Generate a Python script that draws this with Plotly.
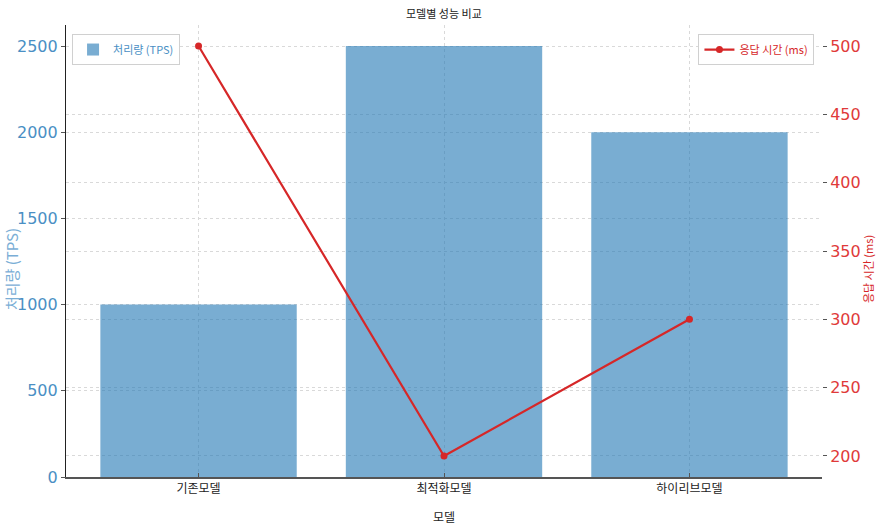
import plotly.graph_objects as go

models = ["기존모델", "최적화모델", "하이리브모델"]
throughput = [1000, 2500, 2000]
latency = [500, 200, 300]

KR = "Noto Sans CJK KR, DejaVu Sans, sans-serif"
NUM = "DejaVu Sans, sans-serif"

fig = go.Figure()
fig.add_trace(go.Bar(
    x=models, y=throughput, name="처리량 (TPS)",
    marker=dict(color="rgba(31,119,180,0.6)", line=dict(width=0)),
    width=0.8, yaxis="y", legend="legend", showlegend=True,
))
fig.add_trace(go.Scatter(
    x=models, y=latency, name="응답 시간 (ms)", mode="lines+markers",
    line=dict(color="#d62728", width=2.2), marker=dict(color="#d62728", size=7),
    yaxis="y2", legend="legend2", showlegend=True,
))

grid = dict(showgrid=True, gridcolor="#d9d9d9", griddash="dot", gridwidth=1)

fig.update_layout(
    width=882, height=525,
    margin=dict(l=66, r=60, t=25, b=48),
    plot_bgcolor="white", paper_bgcolor="white",
    showlegend=True,
    xaxis=dict(
        type="category", range=[-0.54, 2.54], **grid, automargin=False,
        showline=True, linecolor="#555", linewidth=1.5,
        ticks="inside", ticklen=4, tickcolor="#555",
        tickfont=dict(family=KR, size=12, color="#222"),
    ),
    yaxis=dict(
        range=[0, 2622], tickvals=[0, 500, 1000, 1500, 2000, 2500], **grid, automargin=False,
        showline=True, linecolor="#222", linewidth=1.2,
        ticks="outside", ticklen=4, tickcolor="#555",
        tickfont=dict(family=NUM, size=16, color="#4a8fc4"),
        zeroline=False,
    ),
    yaxis2=dict(
        overlaying="y", side="right", range=[184.6, 515.4], automargin=False,
        tickvals=[200, 250, 300, 350, 400, 450, 500], **grid,
        showline=False, ticks="outside", ticklen=4, tickcolor="#555",
        tickfont=dict(family=NUM, size=16, color="#e03a3a"),
        zeroline=False,
    ),
    legend=dict(x=0.008, y=0.98, xanchor="left", yanchor="top",
                bgcolor="white", bordercolor="#d0d0d0", borderwidth=1,
                font=dict(family=KR, size=11, color="#4a8fc4")),
    legend2=dict(x=0.99, y=0.98, xanchor="right", yanchor="top",
                 bgcolor="white", bordercolor="#d0d0d0", borderwidth=1,
                 font=dict(family=KR, size=11, color="#d62728")),
    annotations=[
        dict(text="모델별 성능 비교", x=0.5, y=1, xref="paper", yref="paper",
             xanchor="center", yanchor="middle", yshift=12, showarrow=False,
             font=dict(family=KR, size=11, color="#222")),
        dict(text="모델", x=0.5, y=0, xref="paper", yref="paper",
             xanchor="center", yanchor="middle", yshift=-39, showarrow=False,
             font=dict(family=KR, size=12, color="#222")),
        dict(text="처리량 (TPS)", x=0, y=0.46, xref="paper", yref="paper",
             xanchor="center", yanchor="middle", xshift=-55, textangle=-90, showarrow=False,
             font=dict(family=KR, size=15, color="#7aaed6")),
        dict(text="응답 시간 (ms)", x=1, y=0.46, xref="paper", yref="paper",
             xanchor="center", yanchor="middle", xshift=46, textangle=-90, showarrow=False,
             font=dict(family=KR, size=11, color="#d62728")),
    ],
)

fig.write_html("out.html", config={"displayModeBar": False},
               post_script="document.body.style.margin='0';")
